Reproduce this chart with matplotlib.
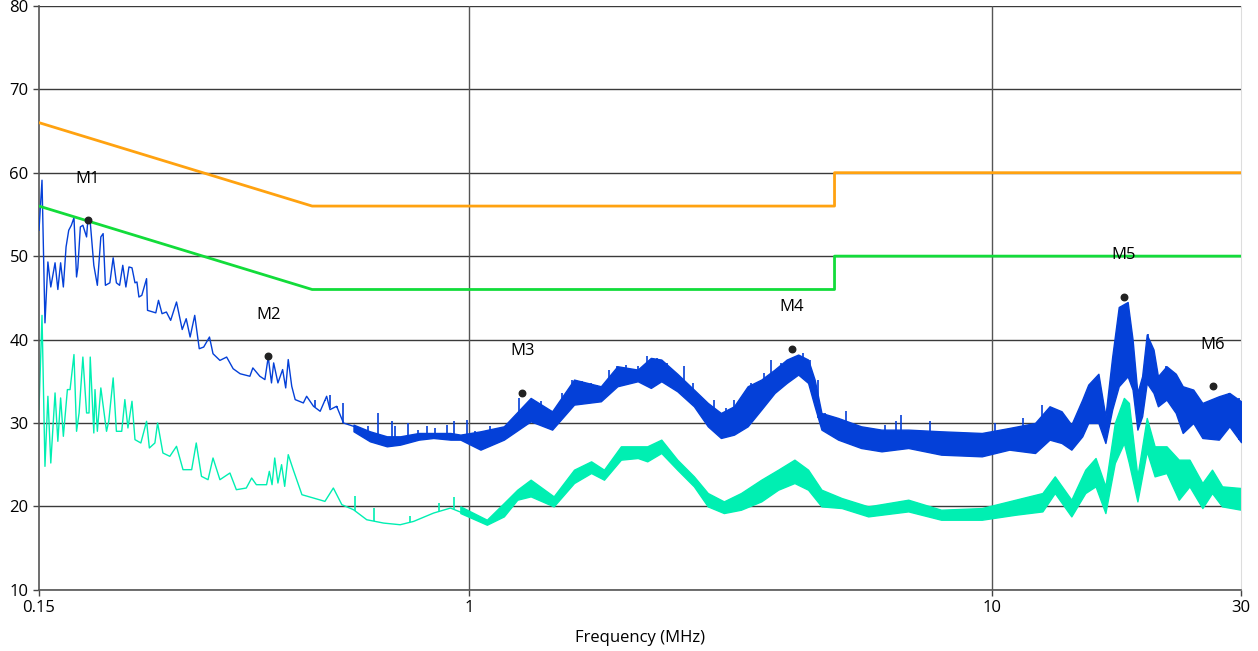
import numpy as np
import matplotlib
matplotlib.use("Agg")
import matplotlib.pyplot as plt
from matplotlib.ticker import FixedLocator, NullLocator

# limit lines (dBuV)
qp_f = [0.15, 0.5, 5.0, 5.0, 30.0]
qp_v = [66, 56, 56, 60, 60]
av_f = [0.15, 0.5, 5.0, 5.0, 30.0]
av_v = [56, 46, 46, 50, 50]

# peak trace, low frequency part (read point by point)
pk_f = [0.150, 0.152, 0.154, 0.156, 0.158, 0.161, 0.163, 0.165, 0.167, 0.169,
        0.171, 0.173, 0.175, 0.177, 0.178, 0.180, 0.182, 0.185, 0.186, 0.188,
        0.191, 0.194, 0.197, 0.199, 0.201, 0.205, 0.208, 0.211, 0.214, 0.217,
        0.220, 0.223, 0.226, 0.229, 0.231, 0.233, 0.236, 0.241, 0.242, 0.251,
        0.254, 0.258, 0.263, 0.268, 0.275, 0.282, 0.287, 0.292, 0.298, 0.304,
        0.310, 0.318, 0.323, 0.333, 0.343, 0.353, 0.364, 0.380, 0.385, 0.397,
        0.406, 0.412, 0.418, 0.422, 0.430, 0.439, 0.445, 0.450, 0.457, 0.464,
        0.481, 0.488, 0.503, 0.518, 0.533, 0.541, 0.557, 0.574, 0.600]
pk_v = [53.1, 59.1, 42.0, 49.3, 46.3, 49.2, 46.0, 49.2, 46.3, 51.1,
        53.1, 53.7, 54.6, 47.5, 48.6, 53.5, 53.7, 52.3, 54.3, 54.1,
        48.9, 46.5, 52.3, 52.7, 46.5, 46.8, 49.8, 46.8, 46.5, 48.9,
        46.3, 48.7, 48.6, 46.8, 46.9, 45.1, 45.3, 47.3, 43.5, 43.2,
        44.7, 43.1, 43.3, 42.3, 44.5, 41.2, 42.5, 40.3, 42.9, 38.9,
        39.1, 40.3, 38.3, 37.5, 37.9, 36.5, 35.9, 35.6, 36.6, 35.6,
        35.2, 37.9, 34.8, 37.2, 34.8, 36.4, 34.2, 37.6, 34.4, 32.8,
        32.4, 33.2, 32.0, 31.4, 33.2, 31.6, 32.0, 30.0, 29.6]

# peak trace, band part (lower / upper edge)
pkb_f = [0.600, 0.645, 0.695, 0.737, 0.800, 0.853, 0.920,
         0.961, 1.05, 1.164, 1.31, 1.44, 1.586, 1.785, 1.92, 2.10, 2.225,
         2.33, 2.50, 2.69, 2.86, 3.03, 3.21, 3.41, 3.62, 3.84, 4.05,
         4.26, 4.45, 4.58, 4.72, 5.08, 5.62, 6.15, 6.92, 8.0, 9.57,
         10.8, 12.1, 12.9, 13.6, 14.2, 14.9, 15.3, 16.0, 16.5, 17.0,
         17.5, 18.2, 18.6, 19.0, 19.4, 19.8, 20.4, 20.8, 21.6, 22.5,
         23.2, 24.3, 25.3, 27.2, 28.5, 30.0]
pkb_lo = [29.0, 27.8, 27.2, 27.4, 28.0, 28.2, 28.0,
          28.0, 26.8, 28.0, 30.2, 29.2, 32.2, 32.6, 34.4, 35.0, 34.2,
          35.0, 33.8, 32.0, 29.6, 28.2, 28.6, 29.6, 31.6, 33.6, 34.8,
          35.8, 34.8, 32.0, 29.2, 28.0, 27.0, 26.6, 27.0, 26.2, 26.0,
          26.8, 26.4, 28.0, 27.6, 26.8, 28.4, 30.0, 30.0, 27.6, 31.6,
          34.4, 35.6, 34.0, 29.2, 30.8, 34.8, 33.6, 32.0, 32.8, 31.2,
          28.8, 30.0, 28.2, 28.0, 29.6, 27.7]
pkb_hi = [29.8, 29.0, 28.4, 28.4, 28.8, 28.8, 28.8,
          28.6, 29.0, 29.6, 33.0, 31.4, 35.2, 34.4, 36.8, 36.4, 37.8,
          37.6, 35.9, 34.0, 32.4, 31.2, 32.0, 34.4, 35.2, 36.4, 37.6,
          38.2, 37.6, 35.2, 31.2, 30.6, 29.6, 29.2, 29.2, 29.0, 28.8,
          29.4, 30.0, 32.0, 31.4, 29.8, 32.8, 34.6, 35.9, 30.8, 37.9,
          43.9, 44.5, 40.0, 33.6, 35.6, 40.6, 38.8, 35.6, 36.8, 35.9,
          34.4, 34.0, 32.4, 33.2, 33.6, 32.6]

# peak trace, single spikes above the band (frequency, top)
spk_f = [0.506, 0.529, 0.540, 0.557, 0.574, 0.641, 0.667, 0.711, 0.721, 0.762,
         0.799, 0.829, 0.860, 0.906, 0.936, 0.990, 1.027, 1.097, 1.243, 1.31,
         1.369, 1.506, 1.575, 1.645, 1.707, 1.757, 1.851, 1.920, 1.993, 2.099,
         2.192, 2.291, 2.393, 2.576, 2.674, 2.797, 2.94, 3.10, 3.215, 3.32,
         3.46, 3.67, 3.78, 3.95, 4.35, 4.48, 4.65, 4.79, 5.01, 5.25,
         5.51, 5.84, 6.24, 6.57, 6.71, 7.63, 10.13, 11.5, 12.5, 19.9,
         21.6, 28.5, 29.8]
spk_v = [32.8, 32.6, 33.4, 31.8, 32.4, 29.6, 31.2, 30.2, 29.6, 30.0,
         29.2, 29.6, 29.4, 29.8, 30.2, 30.4, 29.0, 29.6, 33.0, 32.8,
         32.6, 33.6, 35.2, 35.0, 34.8, 34.6, 36.4, 36.8, 37.0, 36.8,
         38.0, 37.8, 37.2, 36.8, 34.8, 32.8, 32.8, 31.8, 32.8, 33.2,
         34.8, 36.0, 37.6, 37.2, 38.4, 37.6, 35.2, 31.2, 30.6, 31.4,
         29.8, 29.2, 29.8, 30.2, 31.0, 30.2, 30.0, 30.6, 32.2, 40.7,
         36.8, 33.6, 33.0]

# average trace, low frequency part
avg_f = [0.150, 0.152, 0.154, 0.156, 0.158, 0.161, 0.163, 0.165, 0.167, 0.170,
         0.172, 0.175, 0.177, 0.179, 0.182, 0.185, 0.187, 0.188, 0.191, 0.192,
         0.194, 0.197, 0.202, 0.204, 0.208, 0.211, 0.216, 0.219, 0.222, 0.226,
         0.229, 0.235, 0.241, 0.244, 0.250, 0.253, 0.259, 0.267, 0.275, 0.283,
         0.294, 0.300, 0.307, 0.316, 0.323, 0.333, 0.348, 0.358, 0.374, 0.383,
         0.391, 0.409, 0.414, 0.419, 0.424, 0.430, 0.437, 0.443, 0.450, 0.460,
         0.478, 0.503, 0.529, 0.549, 0.570, 0.600, 0.636, 0.685, 0.737, 0.782,
         0.854, 0.920, 0.990]
avg_v = [31.6, 42.9, 24.8, 33.2, 25.2, 33.6, 27.8, 33.0, 28.4, 34.0,
         34.0, 38.2, 29.0, 31.2, 37.9, 31.2, 31.2, 37.9, 28.8, 34.0,
         29.0, 34.2, 29.0, 30.2, 35.4, 29.0, 29.0, 32.8, 29.4, 32.6,
         28.0, 27.6, 30.2, 27.0, 27.6, 30.0, 26.4, 26.0, 27.2, 24.4,
         24.4, 27.6, 23.6, 23.2, 25.8, 23.2, 24.0, 22.0, 22.2, 23.4,
         22.6, 22.6, 24.2, 22.6, 25.8, 22.8, 25.0, 22.4, 26.2, 24.4,
         21.4, 21.0, 20.6, 22.2, 20.2, 19.6, 18.4, 18.0, 17.8, 18.2,
         19.2, 19.8, 19.0]

# average trace, high frequency part (band)
avb_f = [0.961, 1.08, 1.164, 1.235, 1.31, 1.45, 1.586, 1.71, 1.81, 1.95,
         2.10, 2.19, 2.33, 2.50, 2.69, 2.86, 3.07, 3.31, 3.62, 3.90,
         4.19, 4.45, 4.72, 5.16, 5.8, 6.92, 8.0, 9.57, 11.1, 12.5,
         13.2, 14.2, 15.1, 15.8, 16.5, 17.2, 17.9, 18.3, 19.0, 19.8,
         20.5, 21.6, 22.8, 23.9, 25.3, 26.4, 27.6, 30.0]
avb_lo = [19.2, 17.8, 18.8, 20.8, 21.2, 20.0, 22.8, 24.0, 23.2, 25.6,
          25.8, 25.4, 26.4, 24.4, 22.4, 20.0, 19.2, 19.6, 20.6, 22.0,
          22.8, 22.0, 20.0, 19.8, 18.8, 19.4, 18.4, 18.4, 19.0, 19.4,
          21.6, 18.8, 21.6, 22.4, 19.2, 25.2, 27.6, 25.2, 20.6, 26.6,
          23.6, 24.0, 20.8, 22.4, 19.8, 21.6, 20.0, 19.6]
avb_hi = [20.0, 18.4, 20.4, 22.0, 23.2, 21.2, 24.4, 25.4, 24.4, 27.2,
          27.2, 27.2, 28.0, 25.6, 23.6, 21.6, 20.6, 21.6, 23.2, 24.4,
          25.6, 24.4, 22.0, 21.0, 20.0, 20.8, 19.6, 19.8, 20.8, 21.6,
          23.6, 20.8, 24.4, 25.8, 22.4, 30.0, 33.0, 32.4, 23.6, 30.6,
          27.2, 27.2, 25.6, 25.6, 22.8, 24.4, 22.4, 22.2]

# average trace spikes
aspk_f = [0.604, 0.657, 0.771, 0.873, 0.933, 0.975]
aspk_v = [21.2, 19.8, 18.8, 20.4, 21.1, 19.8]

# markers
mk_names = ["M1", "M2", "M3", "M4", "M5", "M6"]
mk_f = [0.186, 0.412, 1.262, 4.14, 17.9, 26.5]
mk_v = [54.3, 38.0, 33.6, 38.9, 45.1, 34.4]

x_ticks = [0.15, 1, 10, 30]
x_labels = ["0.15", "1", "10", "30"]
y_ticks = [10, 20, 30, 40, 50, 60, 70, 80]

plt.rcParams['font.family'] = ['Open Sans', 'DejaVu Sans']

blue = '#0440d8'
cyan = '#00efb2'

fig = plt.figure(figsize=(12.58, 6.51), dpi=100)
ax = fig.add_axes([0.031, 0.094, 0.9555, 0.897])

ax.set_xscale('log')
ax.set_xlim(0.15, 30)
ax.set_ylim(10, 80)

for y in y_ticks:
    ax.axhline(y, color='#3a3a3a', lw=1.0, zorder=1)
for x in [1, 10]:
    ax.axvline(x, color='#555555', lw=1.0, zorder=1)

# average
ax.plot(avg_f, avg_v, color=cyan, lw=1.0, zorder=2)
ax.fill_between(avb_f, avb_lo, avb_hi, color=cyan, lw=1.0, zorder=2)
abase_f = avg_f + avb_f[1:]
abase_v = avg_v + avb_lo[1:]
ax.vlines(aspk_f, np.interp(aspk_f, abase_f, abase_v), aspk_v,
          color=cyan, lw=1.2, zorder=2)

# peak
ax.plot(pk_f, pk_v, color=blue, lw=1.0, zorder=3)
ax.fill_between(pkb_f, pkb_lo, pkb_hi, color=blue, lw=1.0, zorder=3)
base_f = pk_f[:-1] + pkb_f
base_v = pk_v[:-1] + pkb_lo
ax.vlines(spk_f, np.interp(spk_f, base_f, base_v), spk_v,
          color=blue, lw=1.2, zorder=3)

ax.plot(qp_f, qp_v, color='#ffa210', lw=2.0, zorder=4)
ax.plot(av_f, av_v, color='#12dc3a', lw=2.0, zorder=4)

ax.scatter(mk_f, mk_v, s=22, color='#222222', zorder=5)
for name, f, v in zip(mk_names, mk_f, mk_v):
    ax.text(f, v + 5, name, ha='center', va='center', fontsize=12, zorder=6)

ax.xaxis.set_major_locator(FixedLocator(x_ticks))
ax.xaxis.set_minor_locator(NullLocator())
ax.set_xticklabels(x_labels)
ax.set_yticks(y_ticks)
ax.tick_params(axis='both', labelsize=12, length=4, width=1.0, color='#444444')
ax.set_xlabel('Frequency (MHz)', fontsize=12, labelpad=10)

for s in ['left', 'bottom']:
    ax.spines[s].set_color('#555555')
    ax.spines[s].set_linewidth(1.2)
ax.spines['top'].set_visible(False)
ax.spines['right'].set_color('#dddddd')

fig.savefig('out.png', dpi=100)
